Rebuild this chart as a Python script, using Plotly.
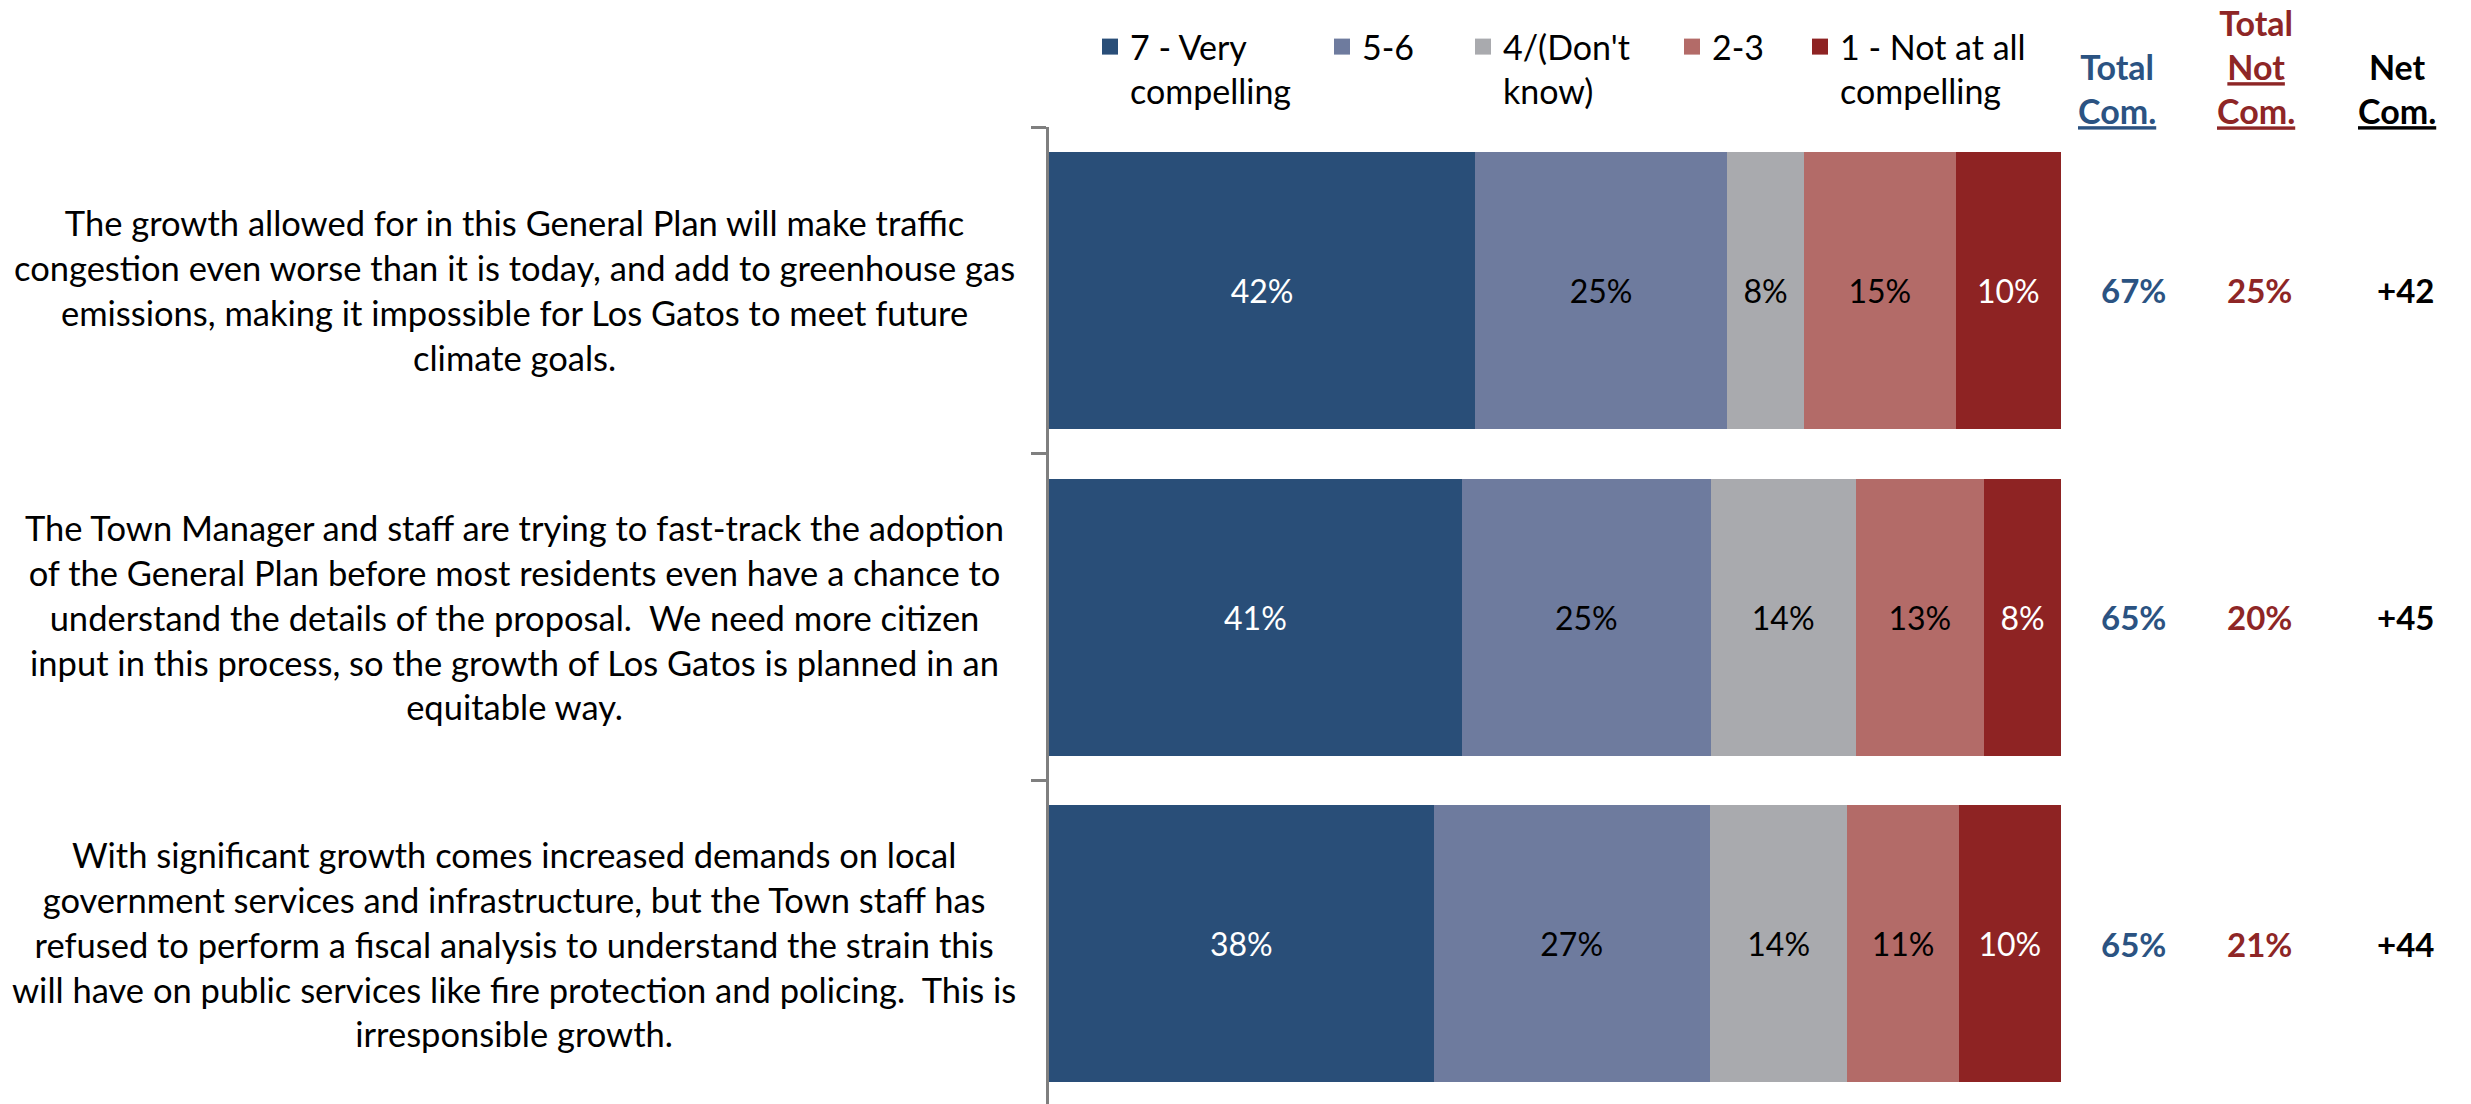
import plotly.graph_objects as go

# ---------------- data ----------------
statements = [
    "The growth allowed for in this General Plan will make traffic<br>congestion even worse than it is today, and add to greenhouse gas<br>emissions, making it impossible for Los Gatos to meet future<br>climate goals.",
    "The Town Manager and staff are trying to fast-track the adoption<br>of the General Plan before most residents even have a chance to<br>understand the details of the proposal.  We need more citizen<br>input in this process, so the growth of Los Gatos is planned in an<br>equitable way.",
    "With significant growth comes increased demands on local<br>government services and infrastructure, but the Town staff has<br>refused to perform a fiscal analysis to understand the strain this<br>will have on public services like fire protection and policing.  This is<br>irresponsible growth.",
]
series_names = ["7 - Very<br>compelling", "5-6", "4/(Don't<br>know)", "2-3", "1 - Not at all<br>compelling"]
very_compelling = [42.1, 40.8, 38.0]
compelling_5_6 = [24.9, 24.6, 27.3]
dont_know_4 = [7.6, 14.3, 13.6]
not_2_3 = [15.0, 12.7, 11.0]
not_at_all_1 = [10.4, 7.6, 10.1]
series_values = [very_compelling, compelling_5_6, dont_know_4, not_2_3, not_at_all_1]

total_com = [67, 65, 65]
total_not_com = [25, 20, 21]
net_com = [42, 45, 44]

# ---------------- style ----------------
W, H = 2471, 1104
FONT = "Lato, 'Open Sans', sans-serif"
colors = ["#294E78", "#6E7B9E", "#A9AAAE", "#B36B68", "#8E2323"]
text_colors = ["white", "black", "black", "black", "white"]
BLUE, RED = "#2B5382", "#8E2626"

def px_x(px):
    return px / W

def px_y(py):
    return 1 - py / H

fig = go.Figure()
legend_names = ["legend", "legend2", "legend3", "legend4", "legend5"]
for name, vals, col, tcol, lg in zip(series_names, series_values, colors, text_colors, legend_names):
    fig.add_trace(go.Bar(
        y=statements, x=vals, name=name, orientation="h",
        marker=dict(color=col, line=dict(width=0)),
        text=vals, texttemplate="%{x:.0f}%", textposition="inside",
        insidetextanchor="middle", textangle=0, constraintext="none",
        textfont=dict(family=FONT, size=32, color=tcol),
        legendgroup=name, showlegend=False, hoverinfo="skip",
    ))
    # legend entry (larger square swatch than the bar default)
    fig.add_trace(go.Scatter(
        x=[None], y=[None], mode="markers", name=name,
        marker=dict(symbol="square", size=16, color=col, line=dict(width=0)),
        legendgroup=name, legend=lg, hoverinfo="skip",
    ))

# legends (one per series so each can sit where the reference puts it)
legend_x_px = [1090, 1322, 1463, 1672, 1800]
layout_legends = {}
for lg, xp in zip(legend_names, legend_x_px):
    layout_legends[lg] = dict(
        x=px_x(xp), xanchor="left", y=px_y(18), yanchor="top",
        orientation="h", bgcolor="rgba(0,0,0,0)", borderwidth=0,
        font=dict(family=FONT, size=34, color="black"), valign="top",
        itemclick=False, itemdoubleclick=False,
    )

annotations = []
# category labels
for s in statements:
    annotations.append(dict(
        xref="paper", yref="y", x=px_x(514), y=s, text=s, showarrow=False,
        xanchor="center", yanchor="middle", align="center",
        font=dict(family=FONT, size=34.5, color="black"),
    ))

# right-hand columns
for s, tc, tn, nc in zip(statements, total_com, total_not_com, net_com):
    annotations.append(dict(xref="paper", yref="y", x=px_x(2133), y=s, text=f"<b>{tc}%</b>",
                            showarrow=False, xanchor="center", yanchor="middle",
                            font=dict(family=FONT, size=33, color=BLUE)))
    annotations.append(dict(xref="paper", yref="y", x=px_x(2259), y=s, text=f"<b>{tn}%</b>",
                            showarrow=False, xanchor="center", yanchor="middle",
                            font=dict(family=FONT, size=33, color=RED)))
    annotations.append(dict(xref="paper", yref="y", x=px_x(2405), y=s, text=f"<b>+{nc}</b>",
                            showarrow=False, xanchor="center", yanchor="middle",
                            font=dict(family=FONT, size=33, color="black")))

# column headers
annotations.append(dict(xref="paper", yref="paper", x=px_x(2117), y=px_y(88),
                        text="<b>Total<br><u>Com.</u></b>", showarrow=False,
                        xanchor="center", yanchor="middle", align="center",
                        font=dict(family=FONT, size=34, color=BLUE)))
annotations.append(dict(xref="paper", yref="paper", x=px_x(2256), y=px_y(66),
                        text="<b>Total<br><u>Not</u><br><u>Com.</u></b>", showarrow=False,
                        xanchor="center", yanchor="middle", align="center",
                        font=dict(family=FONT, size=34, color=RED)))
annotations.append(dict(xref="paper", yref="paper", x=px_x(2397), y=px_y(88),
                        text="<b>Net<br><u>Com.</u></b>", showarrow=False,
                        xanchor="center", yanchor="middle", align="center",
                        font=dict(family=FONT, size=34, color="black")))

fig.update_layout(
    width=W, height=H,
    margin=dict(l=0, r=0, t=0, b=0),
    paper_bgcolor="white", plot_bgcolor="white",
    barmode="stack", bargap=0.152,
    showlegend=True,
    xaxis=dict(domain=[px_x(1049), px_x(2061)], range=[0, 100], visible=False, fixedrange=True),
    yaxis=dict(domain=[0, px_y(127)], type="category", range=[2.49, -0.5],
               showticklabels=False, showgrid=False, zeroline=False,
               showline=True, linecolor="#7F7F7F", linewidth=2.5,
               ticks="outside", ticklen=15, tickwidth=2.5, tickcolor="#7F7F7F",
               tickson="boundaries", fixedrange=True),
    annotations=annotations,
    **layout_legends,
)

fig.write_html("out.html", config={"displayModeBar": False},
               post_script="document.body.style.margin='0px';")
